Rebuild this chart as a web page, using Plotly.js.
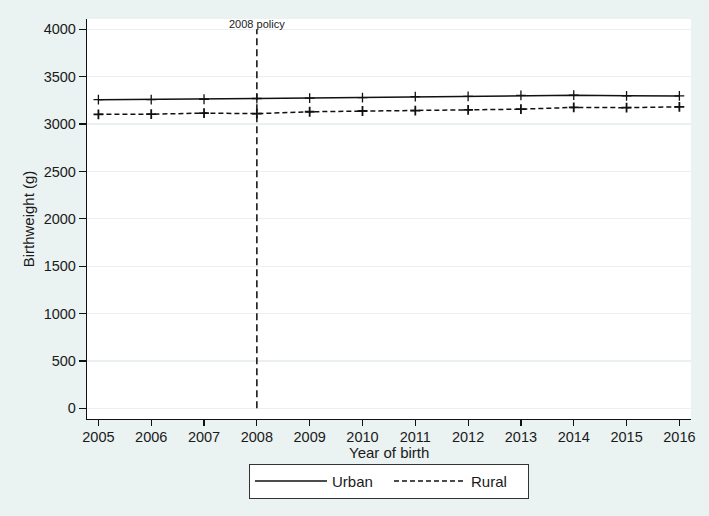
<!DOCTYPE html>
<html>
<head>
<meta charset="utf-8">
<script src="https://cdn.plot.ly/plotly-3.0.1.min.js"></script>
<style>html,body{margin:0;padding:0;background:#eaf2f2;}#chart{width:709px;height:516px;}</style>
</head>
<body>
<div id="chart"></div>
<script>
var years = [2005, 2006, 2007, 2008, 2009, 2010, 2011, 2012, 2013, 2014, 2015, 2016];
var urban = [3257, 3259, 3262, 3270, 3274, 3280, 3290, 3293, 3302, 3305, 3298, 3297];
var rural = [3103, 3104, 3116, 3110, 3130, 3138, 3142, 3149, 3157, 3176, 3173, 3182];
var policyYear = [2008, 2008];
var policyRange = [0, 4000];
var policyLabel = "2008 policy";
var xTitle = "Year of birth";
var yTicks = [0, 500, 1000, 1500, 2000, 2500, 3000, 3500, 4000];

var font = {family: "Liberation Sans, Arial, sans-serif", size: 15, color: "#1a1a1a"};
var tickFont = {family: "Liberation Sans, Arial, sans-serif", size: 14.5, color: "#1a1a1a"};

var traces = [
  {x: policyYear, y: policyRange, mode: "lines", showlegend: false, hoverinfo: "skip",
   line: {color: "#1a1a1a", width: 1.6, dash: "7px,4px"}},
  {x: years, y: urban, mode: "lines", name: "Urban",
   line: {color: "#111", width: 1.5}},
  {x: years, y: rural, mode: "lines", name: "Rural",
   line: {color: "#111", width: 1.5, dash: "5px,3px"}},
  {x: years, y: urban, mode: "markers", showlegend: false,
   marker: {symbol: "cross-thin-open", size: 7, color: "#111", line: {width: 1.3, color: "#111"}}},
  {x: years, y: rural, mode: "markers", showlegend: false,
   marker: {symbol: "cross-thin-open", size: 7, color: "#111", line: {width: 1.8, color: "#111"}}}
];

var layout = {
  width: 709, height: 516,
  paper_bgcolor: "#eaf2f2",
  plot_bgcolor: "#ffffff",
  margin: {l: 87, r: 18, t: 19, b: 97},
  font: font,
  showlegend: true,
  xaxis: {
    range: [2004.784, 2016.22],
    tickvals: years,
    ticktext: years.map(String),
    ticks: "outside", ticklen: 6, tickwidth: 1.2, tickcolor: "#111",
    ticklabelstandoff: -2,
    showline: true, linecolor: "#111", linewidth: 1.2,
    showgrid: false, zeroline: false,
    tickfont: tickFont
  },
  yaxis: {
    range: [-113, 4109],
    tickvals: yTicks,
    ticks: "outside", ticklen: 7, tickwidth: 1.2, tickcolor: "#111",
    showline: true, linecolor: "#111", linewidth: 1.2,
    showgrid: true, gridcolor: "#eaf0f0", gridwidth: 1.2,
    zeroline: false,
    tickfont: tickFont,
    title: {text: "Birthweight (g)", font: font, standoff: 5}
  },
  legend: {
    orientation: "h",
    x: 0.5, xanchor: "center",
    y: -0.112, yanchor: "top",
    bgcolor: "#ffffff", bordercolor: "#333", borderwidth: 1,
    font: font,
    itemwidth: 72,
    entrywidth: 52,
    traceorder: "normal"
  },
  annotations: [
    {x: policyYear[0], y: policyRange[1], xref: "x", yref: "y", text: policyLabel,
     showarrow: false, yanchor: "bottom", yshift: -3,
     font: {family: "Liberation Sans, Arial, sans-serif", size: 11, color: "#1a1a1a"}},
    {x: 0.5, y: -0.084, xref: "paper", yref: "paper", text: xTitle,
     showarrow: false, xanchor: "center", yanchor: "middle", font: font}
  ]
};

Plotly.newPlot("chart", traces, layout, {displayModeBar: false, staticPlot: true});
</script>
</body>
</html>
